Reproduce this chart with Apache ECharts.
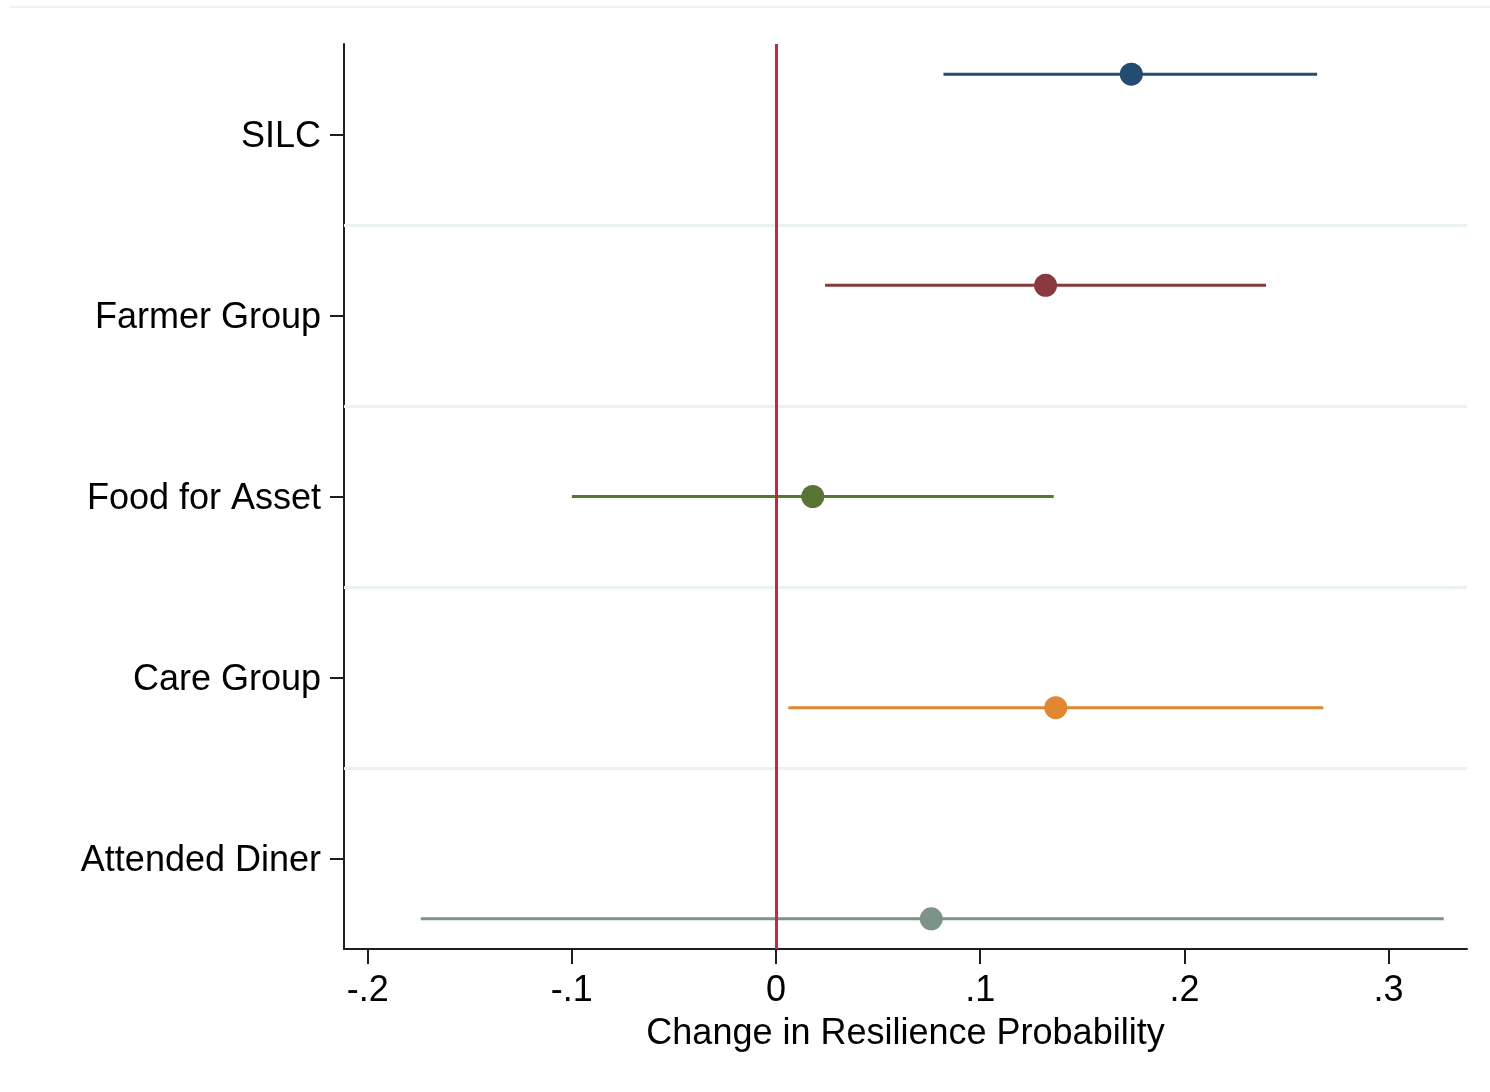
<!DOCTYPE html>
<html>
<head>
<meta charset="utf-8">
<script src="https://cdn.jsdelivr.net/npm/echarts@6/dist/echarts.min.js"></script>
<style>
html,body{margin:0;padding:0;background:#fff;}
#main{width:1490px;height:1092px;}
</style>
</head>
<body>
<div id="main"></div>
<script>
// ---- data ----
const categories = ['SILC', 'Farmer Group', 'Food for Asset', 'Care Group', 'Attended Diner'];
const estimates  = [0.174, 0.132, 0.018, 0.137, 0.076];
const ciLow      = [0.082, 0.024, -0.100, 0.006, -0.174];
const ciHigh     = [0.265, 0.240, 0.136, 0.268, 0.327];
const xTicks     = [-0.2, -0.1, 0, 0.1, 0.2, 0.3];
const xTitle     = 'Change in Resilience Probability';
const colors     = ['#244b70', '#8a3a3e', '#597536', '#df8731', '#7c9388'];

const FONT = '"Liberation Sans", Arial, Helvetica, sans-serif';
const n = categories.length;
const offsetOf = i => (i - (n - 1) / 2) / 6;   // coefplot-style vertical offset per model
const catPos = categories.map((c, i) => i + 1);
const gridPos = catPos.slice(0, -1).map(v => v + 0.5);

function fmt(v) {
  const r = Math.round(v * 10) / 10;
  if (r === 0) return '0';
  return String(r).replace(/^(-?)0\./, '$1.');
}

const series = [];
series.push({
  type: 'line', data: [], silent: true, z: 1,
  markLine: {
    silent: true, symbol: 'none', animation: false, label: {show: false},
    lineStyle: {color: '#eaf1f2', width: 3, type: 'solid'},
    data: gridPos.map(v => ({yAxis: v}))
  }
});
categories.forEach((c, i) => {
  const y = catPos[i] + offsetOf(i);
  series.push({
    name: c + ' CI', type: 'line', z: 3, animation: false, silent: true,
    symbol: 'none',
    lineStyle: {color: colors[i], width: 3},
    data: [[ciLow[i], y], [ciHigh[i], y]]
  });
  series.push({
    name: c, type: 'scatter', z: 4, animation: false,
    symbol: 'circle', symbolSize: 23,
    itemStyle: {color: colors[i], opacity: 1},
    data: [[estimates[i], y]]
  });
});
series.push({
  type: 'line', data: [], silent: true, z: 2,
  markLine: {
    silent: true, symbol: 'none', animation: false, label: {show: false},
    lineStyle: {color: '#c3283f', width: 3, type: 'solid'},
    data: [{xAxis: 0}]
  }
});

const chart = echarts.init(document.getElementById('main'), null, {renderer: 'canvas'});
chart.setOption({
  backgroundColor: '#ffffff',
  animation: false,
  graphic: [{
    type: 'line', shape: {x1: 10, y1: 7, x2: 1490, y2: 7},
    style: {stroke: '#eef3f4', lineWidth: 2}
  }],
  grid: {left: 344, right: 23, top: 44, bottom: 143, containLabel: false},
  xAxis: {
    type: 'value', min: -0.2116, max: 0.3384,
    name: xTitle, nameLocation: 'middle', nameGap: 67,
    nameTextStyle: {fontFamily: FONT, fontSize: 36, color: '#000'},
    axisLine: {show: true, onZero: false, lineStyle: {color: '#1e1e1e', width: 2}},
    axisTick: {show: true, length: 15, customValues: xTicks, lineStyle: {color: '#1e1e1e', width: 2}},
    axisLabel: {customValues: xTicks, formatter: fmt, margin: 24, fontFamily: FONT, fontSize: 36, color: '#000'},
    splitLine: {show: false}
  },
  yAxis: {
    type: 'value', min: 0.5, max: n + 0.5, inverse: true,
    axisLine: {show: true, onZero: false, lineStyle: {color: '#1e1e1e', width: 2}},
    axisTick: {show: true, length: 14, customValues: catPos, lineStyle: {color: '#1e1e1e', width: 2}},
    axisLabel: {
      customValues: catPos, margin: 23, fontFamily: FONT, fontSize: 36, color: '#000',
      formatter: v => '{c|' + (categories[Math.round(v) - 1] || '') + '}',
      rich: {c: {fontFamily: FONT, fontSize: 36, color: '#000', padding: [6, 0, 0, 0]}}
    },
    splitLine: {show: false}
  },
  series: series
});
</script>
</body>
</html>
